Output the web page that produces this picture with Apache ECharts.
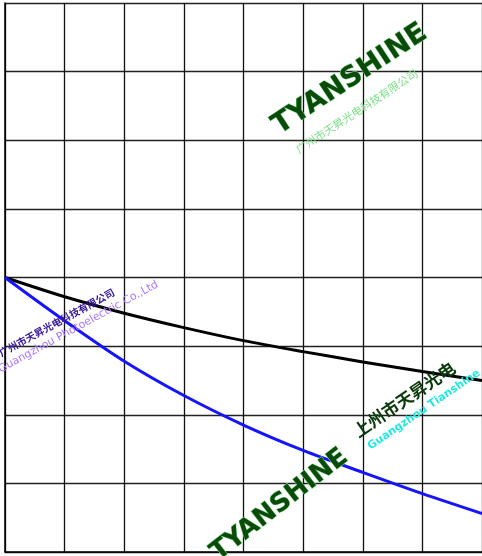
<!DOCTYPE html>
<html>
<head>
<meta charset="utf-8">
<script src="https://cdn.jsdelivr.net/npm/echarts@6/dist/echarts.min.js"></script>
<style>html,body{margin:0;padding:0;background:#fff;}#c{width:482px;height:556px;}</style>
</head>
<body>
<div id="c"></div>
<script>
var xValues = [0, 1, 2, 3, 4, 5, 6, 7, 8];
var blackSeries = [4.0, 3.72, 3.48, 3.27, 3.08, 2.92, 2.77, 2.63, 2.50];
var blueSeries = [4.0, 3.37, 2.78, 2.28, 1.85, 1.48, 1.16, 0.85, 0.56];
var xRange = [0, 8];
var yRange = [0, 8];

function pairs(xs, ys) { return xs.map(function (x, i) { return [x, ys[i]]; }); }

var chart = echarts.init(document.getElementById('c'), null, { renderer: 'canvas' });
chart.setOption({
  backgroundColor: '#fff',
  animation: false,
  grid: { left: 5, top: 3, width: 480, height: 549, containLabel: false },
  xAxis: {
    type: 'value', min: xRange[0], max: xRange[1], interval: 1,
    axisLine: { show: true, lineStyle: { color: '#000', width: 1.5 } },
    axisTick: { show: false }, axisLabel: { show: false },
    splitLine: { show: true, lineStyle: { color: '#111', width: 1.3 } }
  },
  yAxis: {
    type: 'value', min: yRange[0], max: yRange[1], interval: 1,
    axisLine: { show: true, lineStyle: { color: '#000', width: 1.5 } },
    axisTick: { show: false }, axisLabel: { show: false },
    splitLine: { show: true, lineStyle: { color: '#222', width: 1.3 } }
  },
  graphic: [
    { type: 'text', x: 283, y: 140, rotation: 0.58, z: 10,
      style: { text: 'TYANSHINE', fill: '#0b4a0b', font: 'bold 28px "DejaVu Sans"', textAlign: 'left', textVerticalAlign: 'bottom', stroke: '#7fe08a', lineWidth: 1 } },
    { type: 'text', x: 300, y: 155, rotation: 0.58, z: 10,
      style: { text: '广州市天昇光电科技有限公司', fill: '#7fe08a', font: '11px "Noto Sans CJK SC"', textAlign: 'left', textVerticalAlign: 'bottom' } },
    { type: 'text', x: 222, y: 566, rotation: 0.66, z: 10,
      style: { text: 'TYANSHINE', fill: '#0b4a0b', font: 'bold 26px "DejaVu Sans"', textAlign: 'left', textVerticalAlign: 'bottom', stroke: '#7fe08a', lineWidth: 1 } },
    { type: 'text', x: 360, y: 440, rotation: 0.6, z: 10,
      style: { text: '上州市天昇光电', fill: '#0b3a0b', font: 'bold 17px "Noto Sans CJK SC"', textAlign: 'left', textVerticalAlign: 'bottom' } },
    { type: 'text', x: 372, y: 452, rotation: 0.6, z: 10,
      style: { text: 'Guangzhou Tianshine', fill: '#22e8e0', font: 'bold 11px "DejaVu Sans"', textAlign: 'left', textVerticalAlign: 'bottom' } },
    { type: 'text', x: 2, y: 375, rotation: 0.5, z: 10,
      style: { text: 'Guangzhou Photoelectric Co.,Ltd', fill: '#a877ff', font: '11px "DejaVu Sans"', textAlign: 'left', textVerticalAlign: 'bottom' } },
    { type: 'text', x: 2, y: 358, rotation: 0.5, z: 10,
      style: { text: '广州市天昇光电科技有限公司', fill: '#3a1a9a', font: 'bold 10px "Noto Sans CJK SC"', textAlign: 'left', textVerticalAlign: 'bottom' } }
  ],
  series: [
    { type: 'line', data: pairs(xValues, blackSeries), smooth: 0.3, symbol: 'none', z: 5,
      lineStyle: { color: '#000', width: 3 } },
    { type: 'line', data: pairs(xValues, blueSeries), smooth: 0.3, symbol: 'none', z: 5,
      lineStyle: { color: '#1414ff', width: 3 } }
  ]
});
</script>
</body>
</html>
